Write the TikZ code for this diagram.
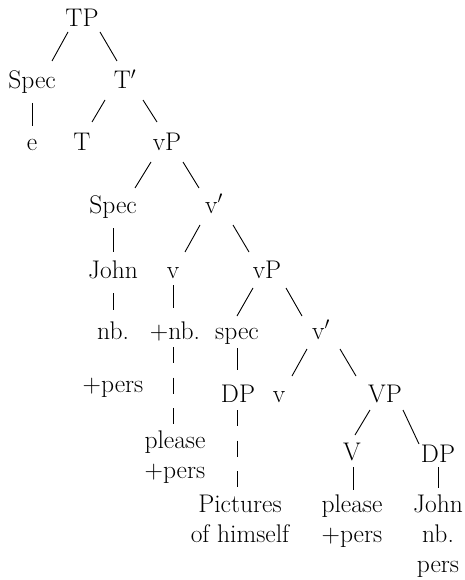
\documentclass[tikz,border=0pt]{standalone}
\usepackage{tikz}

\newcommand{\leafstack}[1]{\begin{tabular}[t]{@{}c@{}}#1\end{tabular}}

\begin{document}
\begin{tikzpicture}[
  x=1pt, y=-1pt,
  %%── Styles ───────────────────────────────────────────────────────────────
  cat/.style={
    anchor=base, inner sep=0pt,
    font=\fontsize{25.5}{30}\selectfont
  },
  branch/.style={draw=black, line width=0.9pt},
  trace/.style={branch, dash pattern=on 16pt off 14.5pt},
]

%%── Page frame (464 x 580) ───────────────────────────────────────────────
\useasboundingbox (0,0) rectangle (464,580);

%%════════════════════════════════════════════════════════════════
%% NODES (x = centre, y = baseline of first line)
%%════════════════════════════════════════════════════════════════
\node[cat] (tp)     at ( 82, 27) {TP};

\node[cat] (specA)  at ( 32, 89) {Spec};
\node[cat] (tbar)   at (125, 89) {T$'$};

\node[cat] (e)      at ( 32,150) {e};
\node[cat] (t)      at ( 82,150) {T};
\node[cat] (vpA)    at (167,150) {vP};

\node[cat] (specB)  at (113,213) {Spec};
\node[cat] (vbarA)  at (214,213) {v$'$};

\node[cat] (john)   at (113,278) {John};
\node[cat] (vA)     at (173,278) {v};
\node[cat] (vpB)    at (267,278) {vP};

\node[cat] (nb)     at (113,339) {nb.};
\node[cat] (plusnb) at (175,339) {+nb.};
\node[cat] (spec)   at (237,339) {spec};
\node[cat] (vbarB)  at (321,339) {v$'$};

\node[cat] (pers)   at (113,392) {+pers};
\node[cat] (dp)     at (238,402) {DP};
\node[cat] (vB)     at (279,402) {v};
\node[cat] (vp)     at (385,402) {VP};

\node[cat] (pleaseA) at (175,448) {\leafstack{please\\+pers}};
\node[cat] (V)       at (352,460) {V};
\node[cat] (dpB)     at (438,462) {DP};

\node[cat] (pictures) at (240,512) {\leafstack{Pictures\\of himself}};
\node[cat] (pleaseB)  at (352,512) {\leafstack{please\\+pers}};
\node[cat] (johnB)    at (438,512) {\leafstack{John\\nb.\\pers}};

%%════════════════════════════════════════════════════════════════
%% BRANCHES
%%════════════════════════════════════════════════════════════════
\draw[branch] ([shift={(-14,5)}]tp.base)    -- ([shift={(20,-28)}]specA.base);
\draw[branch] ([shift={(18,5)}]tp.base)     -- ([shift={(-8,-28)}]tbar.base);
\draw[branch] ([shift={(0,14)}]specA.base)  -- ([shift={(0,-24)}]e.base);
\draw[branch] ([shift={(-20,11)}]tbar.base) -- ([shift={(10,-28)}]t.base);
\draw[branch] ([shift={(18,11)}]tbar.base)  -- ([shift={(-10,-28)}]vpA.base);

\draw[branch] ([shift={(-16,12)}]vpA.base)  -- ([shift={(22,-25)}]specB.base);
\draw[branch] ([shift={(16,12)}]vpA.base)   -- ([shift={(-15,-25)}]vbarA.base);
\draw[branch] ([shift={(0,15)}]specB.base)  -- ([shift={(0,-26)}]john.base);
\draw[branch] ([shift={(-14,12)}]vbarA.base) -- ([shift={(12,-26)}]vA.base);
\draw[branch] ([shift={(19,12)}]vbarA.base) -- ([shift={(-18,-26)}]vpB.base);

\draw[branch] ([shift={(0,15)}]john.base)   -- ([shift={(0,-29)}]nb.base);
\draw[branch] ([shift={(0,7)}]vA.base)      -- ([shift={(-2,-31)}]plusnb.base);
\draw[branch] ([shift={(-14,10)}]vpB.base)  -- ([shift={(0,-23)}]spec.base);
\draw[branch] ([shift={(19,10)}]vpB.base)   -- ([shift={(-19,-23)}]vbarB.base);

\draw[branch] ([shift={(0,9)}]spec.base)    -- ([shift={(-1,-32)}]dp.base);
\draw[branch] ([shift={(-14,10)}]vbarB.base) -- ([shift={(13,-26)}]vB.base);
\draw[branch] ([shift={(19,10)}]vbarB.base) -- ([shift={(-29,-26)}]vp.base);

\draw[branch] ([shift={(-15,8)}]vp.base)    -- ([shift={(3,-25)}]V.base);
\draw[branch] ([shift={(18,8)}]vp.base)     -- ([shift={(-19,-18)}]dpB.base);
\draw[branch] ([shift={(1,7)}]V.base)       -- ([shift={(1,-22)}]pleaseB.base);
\draw[branch] ([shift={(0,5)}]dpB.base)     -- ([shift={(0,-24)}]johnB.base);

%%── Dashed links ─────────────────────────────────────────────────
\draw[trace] ([shift={(-2,8)}]plusnb.base)  -- ([shift={(-2,-24)}]pleaseA.base);
\draw[trace] ([shift={(-1,8)}]dp.base)      -- ([shift={(-3,-24)}]pictures.base);

\end{tikzpicture}
\end{document}
